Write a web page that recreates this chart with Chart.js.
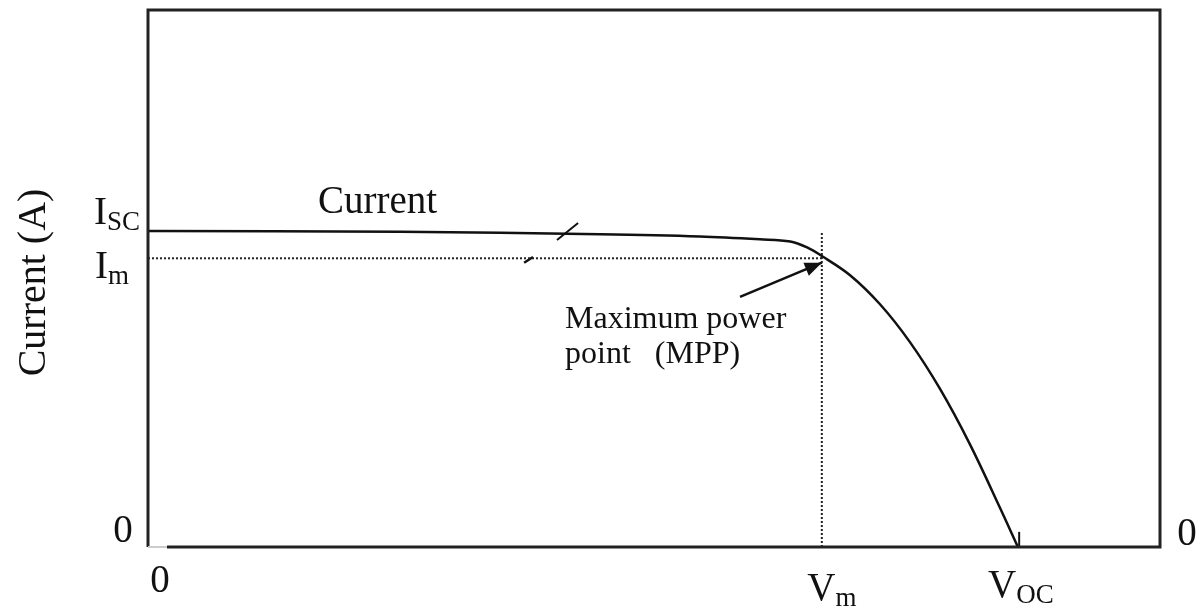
<!DOCTYPE html>
<html>
<head>
<meta charset="utf-8">
<script src="https://cdn.jsdelivr.net/npm/chart.js@4"></script>
<style>
  html, body { margin: 0; padding: 0; background: #fff; }
  #wrap { width: 1199px; height: 609px; position: relative; }
</style>
</head>
<body>
<div id="wrap"><canvas id="ivChart"></canvas></div>
<script>
// I-V curve of a solar cell (arbitrary units)
const voltage = [0, 5.98, 10.72, 13.09, 14.51, 15.23, 15.63, 15.98, 16.65, 17.36, 18.07, 18.78, 19.49, 20.21, 20.63];
const current = [5.00, 4.99, 4.95, 4.915, 4.87, 4.835, 4.741, 4.606, 4.302, 3.842, 3.243, 2.506, 1.629, 0.614, 0];

const Isc = 5.0;
const Im = 4.57;
const Vm = 15.98;
const Voc = 20.63;
const xMax = 24;
const yMax = 8.5;

// arrow pointing at the MPP
const arrowX = [14.04, 15.98];
const arrowY = [3.96, 4.50];

const serif = '"Liberation Serif", "DejaVu Serif", serif';
const ink = '#111';

const pts = (xs, ys) => xs.map((x, i) => ({ x: x, y: ys[i] }));

const data = {
  datasets: [
    {
      label: 'Current',
      data: pts(voltage, current),
      borderColor: ink,
      borderWidth: 2.5,
      pointRadius: 0,
      tension: 0.35,
      clip: false
    },
    {
      label: 'Im',
      data: pts([0, Vm], [Im, Im]),
      borderColor: '#222',
      borderWidth: 2,
      borderDash: [2, 2],
      pointRadius: 0
    },
    {
      label: 'Vm',
      data: pts([Vm, Vm], [4.97, 0]),
      borderColor: '#222',
      borderWidth: 2,
      borderDash: [2, 2],
      pointRadius: 0
    },
    {
      label: 'arrow',
      data: pts(arrowX, arrowY),
      borderColor: ink,
      borderWidth: 2.5,
      pointRadius: 0
    },
    {
      label: 'mark1',
      data: pts([9.70, 10.20], [4.86, 5.13]),
      borderColor: ink,
      borderWidth: 2,
      pointRadius: 0
    },
    {
      label: 'mark2',
      data: pts([8.92, 9.13], [4.50, 4.59]),
      borderColor: ink,
      borderWidth: 2.5,
      pointRadius: 0
    },
    {
      label: 'mark3',
      data: pts([Voc + 0.03, Voc + 0.03], [0, 0.24]),
      borderColor: ink,
      borderWidth: 2,
      pointRadius: 0,
      clip: false
    }
  ]
};

function txt(ctx, s, x, y, size, align) {
  ctx.font = size + 'px ' + serif;
  ctx.textAlign = align || 'left';
  ctx.fillText(s, x, y);
  return ctx.measureText(s).width;
}

// base letter + subscript
function subLabel(ctx, base, sub, x, y, align) {
  ctx.font = '39px ' + serif;
  const w1 = ctx.measureText(base).width;
  ctx.font = '27px ' + serif;
  const w2 = ctx.measureText(sub).width;
  let left = x;
  if (align === 'center') left = x - (w1 + w2) / 2;
  if (align === 'right') left = x - (w1 + w2);
  txt(ctx, base, left, y, 39);
  txt(ctx, sub, left + w1, y + 6, 27);
}

const drawExtras = {
  id: 'drawExtras',
  afterDraw(chart) {
    const ctx = chart.ctx;
    const xs = chart.scales.x, ys = chart.scales.y;
    const a = chart.chartArea;
    const px = v => xs.getPixelForValue(v);
    const py = v => ys.getPixelForValue(v);

    ctx.save();
    // frame
    ctx.strokeStyle = '#222';
    ctx.lineWidth = 3;
    ctx.beginPath();
    ctx.moveTo(a.left, py(Isc) + 1);
    ctx.lineTo(a.left, a.top);
    ctx.lineTo(a.right, a.top);
    ctx.lineTo(a.right, a.bottom);
    ctx.lineTo(px(0.45), a.bottom);
    ctx.moveTo(a.left, py(Isc) - 9);
    ctx.lineTo(a.left, a.bottom);
    ctx.stroke();
    ctx.strokeStyle = '#ccc';
    ctx.lineWidth = 2;
    ctx.beginPath();
    ctx.moveTo(a.left, a.bottom);
    ctx.lineTo(px(0.45), a.bottom);
    ctx.stroke();

    // arrowhead
    const x1 = px(arrowX[0]), y1 = py(arrowY[0]);
    const x2 = px(arrowX[1]), y2 = py(arrowY[1]);
    const ang = Math.atan2(y2 - y1, x2 - x1);
    const L = 17, W = 7;
    ctx.fillStyle = ink;
    ctx.beginPath();
    ctx.moveTo(x2, y2);
    ctx.lineTo(x2 - L * Math.cos(ang) + W * Math.sin(ang), y2 - L * Math.sin(ang) - W * Math.cos(ang));
    ctx.lineTo(x2 - L * Math.cos(ang) - W * Math.sin(ang), y2 - L * Math.sin(ang) + W * Math.cos(ang));
    ctx.closePath();
    ctx.fill();

    // texts
    ctx.fillStyle = ink;
    ctx.textBaseline = 'alphabetic';
    txt(ctx, 'Current', px(4.03), py(5.29), 39);
    txt(ctx, 'Maximum power', px(9.89), py(3.47), 32);
    txt(ctx, 'point   (MPP)', px(9.89), py(2.91), 32);

    // y ticks
    subLabel(ctx, 'I', 'SC', a.left - 8, py(Isc) - 7, 'right');
    subLabel(ctx, 'I', 'm', a.left - 19, py(Im) + 20, 'right');
    txt(ctx, '0', a.left - 25, py(0) - 5, 39, 'center');
    txt(ctx, '0', a.right + 27, py(0) - 2, 39, 'center');

    // x ticks
    txt(ctx, '0', px(0) + 12, a.bottom + 45, 39, 'center');
    subLabel(ctx, 'V', 'm', px(Vm) + 10, a.bottom + 53, 'center');
    subLabel(ctx, 'V', 'OC', px(Voc) + 3, a.bottom + 50, 'center');

    // axis title
    ctx.translate(45, (a.top + a.bottom) / 2 + 4);
    ctx.rotate(-Math.PI / 2);
    txt(ctx, 'Current (A)', 0, 0, 40, 'center');
    ctx.restore();
  }
};

new Chart(document.getElementById('ivChart'), {
  type: 'line',
  data: data,
  options: {
    responsive: true,
    maintainAspectRatio: false,
    animation: false,
    layout: { padding: { left: 148, top: 10, right: 39, bottom: 62 } },
    plugins: {
      legend: { display: false },
      tooltip: { enabled: false }
    },
    scales: {
      x: { type: 'linear', min: 0, max: xMax, display: false },
      y: { type: 'linear', min: 0, max: yMax, display: false }
    }
  },
  plugins: [drawExtras]
});
</script>
</body>
</html>
